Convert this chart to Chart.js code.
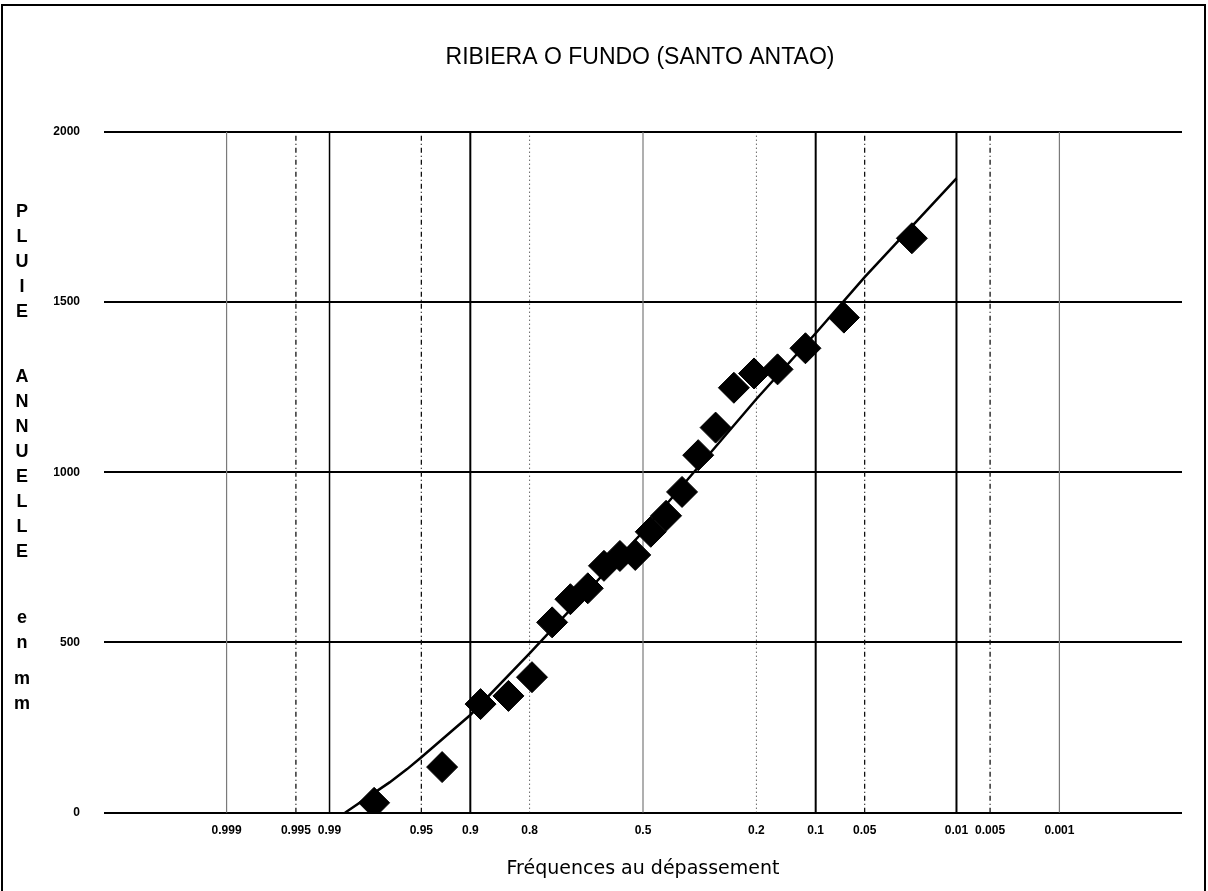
<!DOCTYPE html>
<html>
<head>
<meta charset="utf-8">
<title>Ribiera o Fundo (Santo Antao)</title>
<script src="https://cdn.jsdelivr.net/npm/chart.js@4/dist/chart.umd.min.js"></script>
<style>
  html, body { margin: 0; padding: 0; background: #fff; }
  #wrap { position: relative; width: 1208px; height: 891px; }
</style>
</head>
<body>
<div id="wrap"><canvas id="chart" width="1208" height="891"></canvas></div>
<script>
// Annual rainfall (mm), sorted ascending, with exceedance frequencies (Hazen positions, n = 22)
const obsFreq = [0.977, 0.932, 0.886, 0.841, 0.795, 0.750, 0.705, 0.659, 0.614, 0.568, 0.523,
                 0.477, 0.432, 0.386, 0.341, 0.295, 0.250, 0.205, 0.159, 0.114, 0.068, 0.023];
const obsRain = [29, 134, 319, 343, 398, 559, 627, 659, 725, 754, 757,
                 825, 872, 942, 1050, 1131, 1248, 1290, 1302, 1364, 1454, 1687];

// Fitted distribution curve
const fitFreq = [0.9865, 0.97, 0.96, 0.95, 0.9, 0.8, 0.5, 0.2, 0.1, 0.05, 0.01];
const fitRain = [0, 89, 128, 163, 287, 468, 825, 1215, 1408, 1573, 1863];

// Probability paper grid (exceedance frequencies) and their labels
const gridFreq = [0.999, 0.995, 0.99, 0.95, 0.9, 0.8, 0.5, 0.2, 0.1, 0.05, 0.01, 0.005, 0.001];
const gridLabels = ['0.999', '0.995', '0.99', '0.95', '0.9', '0.8', '0.5', '0.2', '0.1', '0.05', '0.01', '0.005', '0.001'];

// Rainfall axis ticks
const yTicks = [0, 500, 1000, 1500, 2000];

const titleText = 'RIBIERA O FUNDO (SANTO ANTAO)';
const xTitleText = 'Fréquences au dépassement';
const yTitleWords = ['PLUIE', 'ANNUELLE', 'en', 'mm'];

// Inverse of the standard normal CDF (Acklam's rational approximation)
function probit(p) {
  const a = [-3.969683028665376e+01, 2.209460984245205e+02, -2.759285104469687e+02,
             1.383577518672690e+02, -3.066479806614716e+01, 2.506628277459239e+00];
  const b = [-5.447609879822406e+01, 1.615858368580409e+02, -1.556989798598866e+02,
             6.680131188771972e+01, -1.328068155288572e+01];
  const c = [-7.784894002430293e-03, -3.223964580411365e-01, -2.400758277161838e+00,
             -2.549732539343734e+00, 4.374664141464968e+00, 2.938163982698783e+00];
  const d = [7.784695709041462e-03, 3.224671290700398e-01, 2.445134137142996e+00,
             3.754408661907416e+00];
  const pl = 0.02425, ph = 1 - pl;
  let q, r;
  if (p < pl) {
    q = Math.sqrt(-2 * Math.log(p));
    return (((((c[0]*q + c[1])*q + c[2])*q + c[3])*q + c[4])*q + c[5]) /
           ((((d[0]*q + d[1])*q + d[2])*q + d[3])*q + 1);
  }
  if (p > ph) {
    q = Math.sqrt(-2 * Math.log(1 - p));
    return -(((((c[0]*q + c[1])*q + c[2])*q + c[3])*q + c[4])*q + c[5]) /
            ((((d[0]*q + d[1])*q + d[2])*q + d[3])*q + 1);
  }
  q = p - 0.5; r = q * q;
  return (((((a[0]*r + a[1])*r + a[2])*r + a[3])*r + a[4])*r + a[5])*q /
         (((((b[0]*r + b[1])*r + b[2])*r + b[3])*r + b[4])*r + 1);
}
// exceedance frequency -> reduced normal variable (position on the Gauss paper)
const zOf = f => probit(1 - f);

// Line style of each probability grid line
function gridLineStyle(f) {
  if ([0.9, 0.1, 0.01].includes(f)) return { color: '#000', width: 2, dash: [] };
  if (f === 0.99) return { color: '#000', width: 1.5, dash: [] };
  if ([0.999, 0.5, 0.001].includes(f)) return { color: '#7a7a7a', width: 1.2, dash: [] };
  if ([0.8, 0.2].includes(f)) return { color: '#222', width: 1, dash: [1, 3] };
  return { color: '#111', width: 1.3, dash: [5, 3, 1, 3] };
}

const observed = {
  label: 'Pluie annuelle',
  data: obsFreq.map((f, i) => ({ x: zOf(f), y: obsRain[i] })),
  pointStyle: 'rectRot',
  pointRadius: 15.5,
  backgroundColor: '#000',
  borderColor: '#000',
  borderWidth: 1,
  showLine: false
};

const fitted = {
  label: 'Ajustement',
  data: fitFreq.map((f, i) => ({ x: zOf(f), y: fitRain[i] })),
  showLine: true,
  borderColor: '#000',
  borderWidth: 2.5,
  pointRadius: 0,
  tension: 0
};

const gridSets = gridFreq.map(f => {
  const s = gridLineStyle(f);
  return {
    label: 'F = ' + f,
    data: [{ x: zOf(f), y: 0 }, { x: zOf(f), y: 2000 }],
    showLine: true,
    borderColor: s.color,
    borderWidth: s.width,
    borderDash: s.dash,
    pointRadius: 0
  };
});

// White page, outer frame and chart title
const framePlugin = {
  id: 'frame',
  beforeDraw(chart) {
    const ctx = chart.ctx;
    ctx.save();
    ctx.fillStyle = '#fff';
    ctx.fillRect(0, 0, chart.width, chart.height);
    ctx.restore();
  },
  afterDraw(chart) {
    const ctx = chart.ctx;
    ctx.save();
    ctx.strokeStyle = '#000';
    ctx.lineWidth = 2;
    ctx.beginPath();
    ctx.moveTo(2, chart.height + 2);
    ctx.lineTo(2, 5);
    ctx.lineTo(1205, 5);
    ctx.lineTo(1205, chart.height + 2);
    ctx.stroke();
    ctx.fillStyle = '#000';
    ctx.font = '23px "Liberation Sans", Arial, sans-serif';
    ctx.textAlign = 'center';
    ctx.textBaseline = 'alphabetic';
    ctx.fillText(titleText, 640, 64);
    ctx.restore();
  }
};

// Vertical, letter-by-letter title of the rainfall axis
const yTitlePlugin = {
  id: 'yTitle',
  afterDraw(chart) {
    const ctx = chart.ctx;
    const starts = [212, 377, 618, 679];
    const step = 25;
    ctx.save();
    ctx.fillStyle = '#000';
    ctx.font = 'bold 18px "Liberation Sans", Arial, sans-serif';
    ctx.textAlign = 'center';
    ctx.textBaseline = 'middle';
    yTitleWords.forEach((w, k) => {
      [...w].forEach((ch, j) => ctx.fillText(ch, 22, starts[k] + j * step));
    });
    ctx.restore();
  }
};

const tickFont = { family: '"Liberation Sans", Arial, sans-serif', size: 12, weight: 'bold' };

new Chart(document.getElementById('chart'), {
  type: 'scatter',
  data: { datasets: [observed, fitted, ...gridSets] },
  options: {
    responsive: false,
    animation: false,
    devicePixelRatio: 1,
    layout: { padding: { left: 0, right: 26, top: 131.7, bottom: 0 } },
    plugins: {
      legend: { display: false },
      tooltip: { enabled: false },
      title: { display: false }
    },
    scales: {
      x: {
        type: 'linear',
        min: -4,
        max: 4,
        afterBuildTicks: s => { s.ticks = gridFreq.map(f => ({ value: zOf(f) })); },
        afterFit: s => { s.height = 78.3; },
        grid: { display: false, drawTicks: false },
        border: { display: false },
        ticks: {
          autoSkip: false,
          maxRotation: 0,
          padding: 11,
          color: '#000',
          font: tickFont,
          callback: (v, i) => gridLabels[i]
        },
        title: {
          display: true,
          text: xTitleText,
          color: '#000',
          font: { family: '"DejaVu Sans", sans-serif', size: 19 },
          padding: { top: 0, bottom: 11 }
        }
      },
      y: {
        type: 'linear',
        min: 0,
        max: 2000,
        afterBuildTicks: s => { s.ticks = yTicks.map(v => ({ value: v })); },
        afterFit: s => { s.width = 104; },
        grid: { color: '#000', lineWidth: 2, drawTicks: false },
        border: { display: false },
        ticks: {
          padding: 24,
          color: '#000',
          font: tickFont,
          callback: v => String(v)
        }
      }
    }
  },
  plugins: [framePlugin, yTitlePlugin]
});
</script>
</body>
</html>
